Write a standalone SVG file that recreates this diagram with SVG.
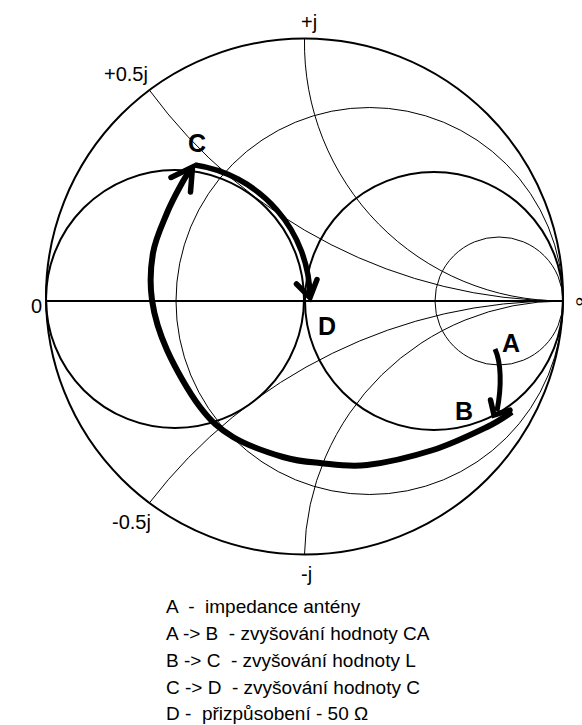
<svg xmlns="http://www.w3.org/2000/svg" width="582" height="725" viewBox="0 0 582 725">
<style>
.thin{fill:none;stroke:#000;stroke-width:1}
.thick{fill:none;stroke:#000;stroke-width:2}
.conn{fill:none;stroke:#000;stroke-linecap:butt;stroke-linejoin:round}
.head{fill:none;stroke:#000;stroke-width:5.5;stroke-linejoin:miter;stroke-linecap:round}
.ax{font-family:"Liberation Sans",Arial,sans-serif;font-size:20px;fill:#000}
.pt{font-family:"Liberation Sans",Arial,sans-serif;font-size:25px;font-weight:bold;fill:#000}
.leg{font-family:"Liberation Sans",Arial,sans-serif;font-size:19px;fill:#000}
</style>
<rect width="582" height="725" fill="#fff"/>
<g id="chart">
<ellipse cx="304.5" cy="296.5" rx="258.5" ry="258" class="thick" stroke-width="2.2"/>
<line x1="46" y1="301" x2="563" y2="301" class="thick"/>
<circle cx="434" cy="301" r="129" class="thick" stroke-width="1.8"/>
<circle cx="175" cy="299" r="129" class="thick" stroke-width="1.8"/>
<circle cx="369.5" cy="301" r="193.5" class="thin"/>
<circle cx="499" cy="301" r="64" class="thin"/>
<path d="M304.5,38.5 A258,258 0 0 0 563,301" class="thin"/>
<path d="M304.5,554.5 A258,258 0 0 1 563,301" class="thin"/>
<path d="M149.4,90.1 A516,516 0 0 0 563,301" class="thin"/>
<path d="M149.4,502.9 A516,516 0 0 1 563,301" class="thin"/>
</g>
<g id="axis-labels">
<text class="ax" x="301" y="29">+j</text>
<text class="ax" x="104" y="81">+0.5j</text>
<text class="ax" x="31" y="313">0</text>
<text class="ax" x="574" y="308" style="font-family:'DejaVu Sans',sans-serif;font-size:21px">∞</text>
<text class="ax" x="112" y="529">-0.5j</text>
<text class="ax" x="301" y="581">-j</text>
</g>
<g id="connectors">
<path id="a-b" class="conn" stroke-width="5" d="M495,349 C501,362 502,385 497,411"/>
<polyline class="head" stroke-width="5" points="490.5,400 494,415 510,410"/>
<path id="b-c" class="conn" stroke-width="6" d="M512,412 C507.8,414.5 500.2,420.7 487,427 C473.8,433.3 453,443.7 433,450 C413,456.3 385.8,462.8 367,465 C348.2,467.2 334,464.3 320,463 C306,461.7 297.5,461.3 283,457 C268.5,452.7 246.8,445.3 233,437 C219.2,428.7 211,421.5 200,407 C189,392.5 175,367.8 167,350 C159,332.2 154.3,316.2 152,300 C149.7,283.8 150.5,267.5 153,253 C155.5,238.5 162.2,224.7 167,213 C171.8,201.3 177.9,190.5 182,183 C186.1,175.5 189.9,170.5 191.5,168"/>
<polyline class="head" points="171,177.5 192.5,167 190.5,192"/>
<path id="c-d" class="conn" stroke-width="5.5" d="M195,165 A135,135 0 0 1 310,296"/>
<polyline class="head" points="296.5,284 310,297.5 317,279.5"/>
</g>
<g id="node-A"><text class="pt" x="502" y="352">A</text></g>
<g id="node-B"><text class="pt" x="455" y="420">B</text></g>
<g id="node-C"><text class="pt" x="188" y="152">C</text></g>
<g id="node-D"><text class="pt" x="318" y="335">D</text></g>
<g id="legend">
<text class="leg" x="166" y="613" xml:space="preserve">A  -  impedance antény</text>
<text class="leg" x="166" y="640" xml:space="preserve">A -&gt; B  - zvyšování hodnoty CA</text>
<text class="leg" x="166" y="667" xml:space="preserve">B -&gt; C  - zvyšování hodnoty L</text>
<text class="leg" x="166" y="694" xml:space="preserve">C -&gt; D  - zvyšování hodnoty C</text>
<text class="leg" x="166" y="720" xml:space="preserve">D -  přizpůsobení - 50 Ω</text>
</g>
</svg>
